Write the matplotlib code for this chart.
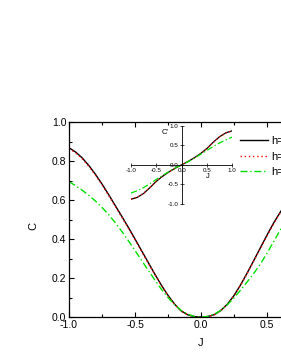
import matplotlib
matplotlib.use("Agg")
import matplotlib.pyplot as plt
from matplotlib.ticker import MultipleLocator, FormatStrFormatter

plt.rcParams['font.family'] = ['Liberation Sans', 'DejaVu Sans']

# main panel data
J = [-1.0, -0.95, -0.9, -0.85, -0.8, -0.75, -0.7, -0.65, -0.6, -0.55, -0.5,
     -0.45, -0.4, -0.35, -0.3, -0.25, -0.2, -0.15, -0.1, -0.05, 0.0,
     0.05, 0.1, 0.15, 0.2, 0.25, 0.3, 0.35, 0.4, 0.45, 0.5, 0.55, 0.6, 0.65]
C_h0 = [0.868, 0.846, 0.816, 0.777, 0.732, 0.682, 0.628, 0.572, 0.516, 0.459, 0.400,
        0.340, 0.280, 0.220, 0.163, 0.111, 0.066, 0.031, 0.011, 0.002, 0.0,
        0.002, 0.012, 0.033, 0.066, 0.110, 0.165, 0.226, 0.290, 0.355, 0.420, 0.482, 0.537, 0.588]
C_h1 = [0.864, 0.842, 0.812, 0.773, 0.728, 0.678, 0.624, 0.568, 0.512, 0.455, 0.397,
        0.337, 0.277, 0.218, 0.161, 0.110, 0.065, 0.030, 0.011, 0.002, 0.0,
        0.002, 0.011, 0.032, 0.065, 0.108, 0.163, 0.223, 0.287, 0.351, 0.416, 0.478, 0.533, 0.584]
C_h2 = [0.694, 0.673, 0.650, 0.624, 0.595, 0.562, 0.525, 0.484, 0.439, 0.391, 0.341,
        0.290, 0.240, 0.190, 0.142, 0.100, 0.063, 0.034, 0.014, 0.003, 0.0,
        0.003, 0.014, 0.034, 0.063, 0.098, 0.138, 0.180, 0.224, 0.272, 0.327, 0.386, 0.446, 0.503]
labels = ["h=0", "h=0.5", "h=1"]

# inset data
Ji = [-1.0, -0.875, -0.75, -0.625, -0.5, -0.375, -0.25, -0.125, 0.0,
      0.125, 0.25, 0.375, 0.5, 0.625, 0.75, 0.875, 1.0]
Cp_h0 = [-0.88, -0.83, -0.73, -0.58, -0.42, -0.29, -0.18, -0.085, 0.0,
         0.085, 0.18, 0.29, 0.42, 0.58, 0.72, 0.82, 0.87]
Cp_h1 = [-0.875, -0.825, -0.725, -0.575, -0.415, -0.285, -0.178, -0.084, 0.0,
         0.084, 0.178, 0.285, 0.415, 0.575, 0.715, 0.815, 0.865]
Cp_h2 = [-0.72, -0.66, -0.58, -0.48, -0.37, -0.27, -0.17, -0.08, 0.0,
         0.08, 0.17, 0.27, 0.37, 0.47, 0.56, 0.64, 0.71]

W, H = 281, 363
fig = plt.figure(figsize=(W / 100, H / 100), dpi=100)

ax = fig.add_axes([69 / W, (H - 317) / H, 264 / W, 195 / H])
ax.plot(J, C_h0, color='black', lw=1.0, label=labels[0])
ax.plot(J, C_h1, color='red', lw=1.0, ls=(0, (1, 2)), label=labels[1])
ax.plot(J, C_h2, color='#00e000', lw=1.0, ls=(0, (5, 2, 1, 2)), label=labels[2])
ax.set_xlim(-1.0, 1.0)
ax.set_ylim(0.0, 1.0)
ax.xaxis.set_major_locator(MultipleLocator(0.5))
ax.xaxis.set_minor_locator(MultipleLocator(0.25))
ax.yaxis.set_major_locator(MultipleLocator(0.2))
ax.yaxis.set_minor_locator(MultipleLocator(0.1))
ax.tick_params(which='both', direction='in', top=True, right=True, labelsize=7.5, pad=2)
ax.tick_params(which='major', length=3.5, width=0.8)
ax.tick_params(which='minor', length=2, width=0.8)
ax.xaxis.set_major_formatter(FormatStrFormatter('%.1f'))
ax.yaxis.set_major_formatter(FormatStrFormatter('%.1f'))
for s in ax.spines.values():
    s.set_linewidth(0.9)
fig.text(33 / W, 1 - 226 / H, 'C', fontsize=8, rotation=90, ha='center', va='center')
fig.text(201 / W, 1 - 343 / H, 'J', fontsize=8, ha='center', va='center')

leg = ax.legend(loc='upper left', bbox_to_anchor=(240 / W, 1 - 136 / H),
                bbox_transform=fig.transFigure, frameon=False, fontsize=8,
                handlelength=2.5, handletextpad=0.3, labelspacing=0.5,
                borderpad=0, borderaxespad=0)

# inset
axi = fig.add_axes([131 / W, (H - 204) / H, 101.3 / W, 78.3 / H])
axi.patch.set_alpha(0)
axi.plot(Ji, Cp_h0, color='black', lw=0.9)
axi.plot(Ji, Cp_h1, color='red', lw=0.9, ls=(0, (1, 2)))
axi.plot(Ji, Cp_h2, color='#00e000', lw=0.9, ls=(0, (5, 2, 1, 2)))
axi.set_xlim(-1.0, 1.0)
axi.set_ylim(-1.0, 1.0)
axi.spines['left'].set_position(('data', 0))
axi.spines['bottom'].set_position(('data', 0))
axi.spines['right'].set_visible(False)
axi.spines['top'].set_visible(False)
for s in ('left', 'bottom'):
    axi.spines[s].set_linewidth(0.6)
axi.xaxis.set_major_locator(MultipleLocator(0.5))
axi.yaxis.set_major_locator(MultipleLocator(0.5))
axi.xaxis.set_major_formatter(FormatStrFormatter('%.1f'))
axi.yaxis.set_major_formatter(FormatStrFormatter('%.1f'))
axi.tick_params(which='both', direction='inout', length=2.5, width=0.5, labelsize=4.5, pad=1)
fig.text(165 / W, 1 - 133 / H, "C'", fontsize=5.5, ha='center', va='center')
fig.text(208 / W, 1 - 177 / H, 'J', fontsize=5.5, ha='center', va='center')

fig.savefig('out.png', dpi=100)
